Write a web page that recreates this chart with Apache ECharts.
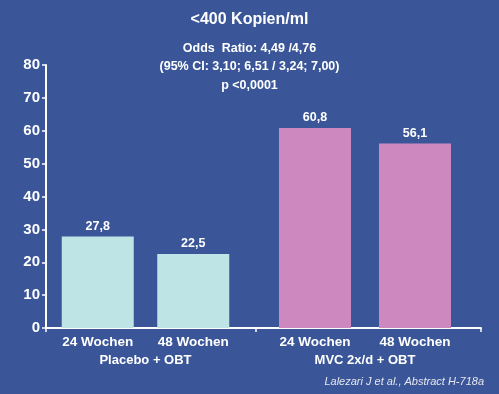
<!DOCTYPE html>
<html>
<head>
<meta charset="utf-8">
<script src="https://cdn.jsdelivr.net/npm/echarts@6/dist/echarts.min.js"></script>
<style>
html,body{margin:0;padding:0;background:#3a5699;}
#chart{width:499px;height:394px;}
</style>
</head>
<body>
<div id="chart"></div>
<script>
// ---- data ----
const periods = ['24 Wochen', '48 Wochen'];
const groups = ['Placebo + OBT', 'MVC 2x/d + OBT'];
const placeboValues = [27.8, 22.5];
const mvcValues = [60.8, 56.1];
const yTicks = [0, 10, 20, 30, 40, 50, 60, 70, 80];
const titleText = '<400 Kopien/ml';
const subtitleLines = ['Odds  Ratio: 4,49 /4,76', '(95% CI: 3,10; 6,51 / 3,24; 7,00)', 'p <0,0001'];
const sourceText = 'Lalezari J et al., Abstract H-718a';

// ---- styles ----
const FONT = '"Liberation Sans", Arial, sans-serif';
const BG = '#3a5699';
const WHITE = '#ffffff';
const C_PLACEBO = '#bfe4e6';
const C_MVC = '#cc88bf';
const TOP = 65, BOTTOM = 66;
const yMin = yTicks[0], yMax = yTicks[yTicks.length - 1], yStep = yTicks[1] - yTicks[0];

const fmt = p => p.value.toFixed(1).replace('.', ',');

const chart = echarts.init(document.getElementById('chart'), null, {renderer: 'canvas'});

function lineXAxis(gridIndex, name) {
  return {
    type: 'category', gridIndex: gridIndex, data: [name],
    axisLine: {lineStyle: {color: WHITE, width: 2}},
    axisTick: {show: true, length: 4, lineStyle: {color: WHITE, width: 1.5}},
    axisLabel: {show: false}
  };
}
function barXAxis(gridIndex, name) {
  return {
    type: 'category', gridIndex: gridIndex, data: periods,
    axisLine: {show: false}, axisTick: {show: false},
    axisLabel: {color: WHITE, fontFamily: FONT, fontWeight: 'bold', fontSize: 13.5, margin: 7, interval: 0},
    name: name, nameLocation: 'middle', nameGap: 25,
    nameTextStyle: {color: WHITE, fontFamily: FONT, fontWeight: 'bold', fontSize: 13}
  };
}
function hiddenY(gridIndex) {
  return {type: 'value', gridIndex: gridIndex, min: yMin, max: yMax, interval: yStep, show: false};
}
function barSeries(idx, values, color) {
  return {
    type: 'bar', xAxisIndex: idx, yAxisIndex: idx, data: values, barWidth: 72,
    itemStyle: {color: color},
    label: {show: true, position: 'top', distance: 4, color: WHITE, fontFamily: FONT, fontWeight: 'bold', fontSize: 12.5, formatter: fmt},
    animation: false
  };
}

chart.setOption({
  backgroundColor: BG,
  animation: false,
  title: [
    {text: titleText, left: 'center', top: 12, padding: 0,
     textStyle: {color: WHITE, fontFamily: FONT, fontWeight: 'bold', fontSize: 16, lineHeight: 16}},
    {text: subtitleLines.join('\n'), left: 'center', top: 39, padding: 0,
     textStyle: {color: WHITE, fontFamily: FONT, fontWeight: 'bold', fontSize: 12.5, lineHeight: 18.5, align: 'center'}},
    {text: sourceText, right: 15, top: 376, padding: 0,
     textStyle: {color: '#e6e6ee', fontFamily: FONT, fontWeight: 'normal', fontStyle: 'italic', fontSize: 11}}
  ],
  grid: [
    {left: 46, width: 210, top: TOP, bottom: BOTTOM},
    {left: 50, width: 191, top: TOP, bottom: BOTTOM},
    {left: 265, width: 200, top: TOP, bottom: BOTTOM},
    {left: 256, right: 18, top: TOP, bottom: BOTTOM}
  ],
  xAxis: [
    lineXAxis(0, groups[0]),
    barXAxis(1, groups[0]),
    barXAxis(2, groups[1]),
    lineXAxis(3, groups[1])
  ],
  yAxis: [
    {type: 'value', gridIndex: 0, min: yMin, max: yMax, interval: yStep,
     axisLine: {show: true, lineStyle: {color: WHITE, width: 2}},
     axisTick: {show: true, length: 4, lineStyle: {color: WHITE, width: 1.5}},
     axisLabel: {color: WHITE, fontFamily: FONT, fontWeight: 'bold', fontSize: 15, margin: 6},
     splitLine: {show: false}},
    hiddenY(1),
    hiddenY(2),
    hiddenY(3)
  ],
  series: [
    barSeries(1, placeboValues, C_PLACEBO),
    barSeries(2, mvcValues, C_MVC)
  ]
});
</script>
</body>
</html>
